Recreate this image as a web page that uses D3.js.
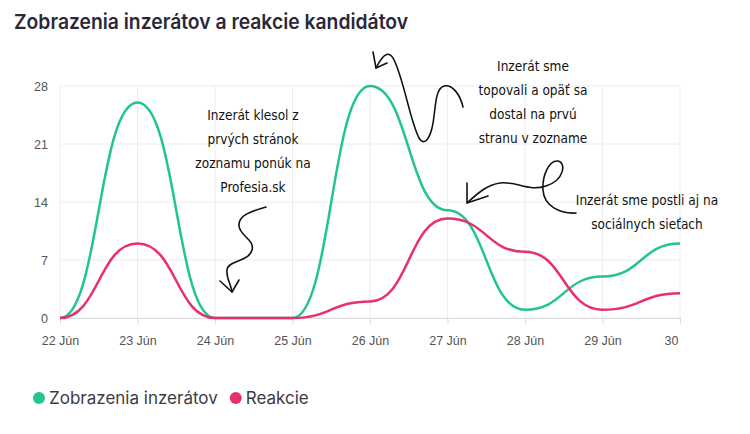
<!DOCTYPE html>
<html><head><meta charset="utf-8">
<script src="https://cdn.jsdelivr.net/npm/d3@7"></script>
<style>
body{margin:0;background:#fff;}
svg{display:block;}
</style></head>
<body>
<svg id="c" width="750" height="434"></svg>
<script>
const categories = ["22 Jún","23 Jún","24 Jún","25 Jún","26 Jún","27 Jún","28 Jún","29 Jún","30"];
const zobrazenia = [0, 26, 0, 0, 28, 13, 1, 5, 9];
const reakcie = [0, 9, 0, 0, 2, 12, 8, 1, 3];
const yTicks = [0, 7, 14, 21, 28];
const seriesNames = ["Zobrazenia inzerátov", "Reakcie"];
const colors = ["#22c58e", "#e8306a"];
const notes = [
  {x:253, y:115, lines:["Inzerát klesol z","prvých stránok","zoznamu ponúk na","Profesia.sk"]},
  {x:533, y:66, lines:["Inzerát sme","topovali a opäť sa","dostal na prvú","stranu v zozname"]},
  {x:647, y:200, lines:["Inzerát sme postli aj na","sociálnych sieťach"]}
];

const svg = d3.select("#c");
const L = 60, R = 680, T = 86, B = 318;
const x = d3.scalePoint().domain(categories).range([L, R]);
const y = d3.scaleLinear().domain([0, 28]).range([B, T]);

svg.append("text").attr("x", 14).attr("y", 29)
  .attr("font-family", "Inter, 'Noto Sans', sans-serif").attr("font-weight", 600)
  .attr("font-size", 20.5).attr("fill", "#2a2838")
  .attr("textLength", 394).attr("lengthAdjust", "spacingAndGlyphs")
  .text("Zobrazenia inzerátov a reakcie kandidátov");

// grid
const g = svg.append("g");
g.selectAll(".hg").data(yTicks).join("line")
  .attr("x1", L).attr("x2", R).attr("y1", d => y(d)).attr("y2", d => y(d))
  .attr("stroke", "#ececec").attr("stroke-width", 1);
g.selectAll(".vg").data(categories).join("line")
  .attr("x1", d => x(d)).attr("x2", d => x(d)).attr("y1", T).attr("y2", B)
  .attr("stroke", "#ececec").attr("stroke-width", 1);

// y axis
const ya = svg.append("g").attr("transform", `translate(${L-12},0)`)
  .call(d3.axisLeft(y).tickValues(yTicks).tickSize(0).tickPadding(0));
ya.select(".domain").remove();
ya.selectAll("text").attr("font-family", "'Liberation Sans', Arial, sans-serif")
  .attr("font-size", 12.5).attr("fill", "#555");

// x axis
const xa = svg.append("g").attr("transform", `translate(0,${B})`)
  .call(d3.axisBottom(x).tickSize(6).tickPadding(12));
xa.select(".domain").attr("stroke", "#dcdcdc");
xa.selectAll(".tick line").attr("stroke", "#dcdcdc");
xa.selectAll("text").attr("font-family", "'Liberation Sans', Arial, sans-serif")
  .attr("font-size", 12.5).attr("fill", "#555");
xa.selectAll(".tick text").filter(d => d === "30").attr("dx", -9);

// lines
const line = d3.line().x((d, i) => x(categories[i])).y(d => y(d)).curve(d3.curveBumpX);
svg.append("path").attr("d", line(zobrazenia)).attr("fill", "none")
  .attr("stroke", colors[0]).attr("stroke-width", 2.5);
svg.append("path").attr("d", line(reakcie)).attr("fill", "none")
  .attr("stroke", colors[1]).attr("stroke-width", 2.5);

// annotations
notes.forEach(n => {
  const t = svg.append("text").attr("text-anchor", "middle")
    .attr("font-family", "'Liberation Sans Narrow', 'DejaVu Sans Condensed', sans-serif")
    .attr("font-size", 13.5).attr("fill", "#111");
  n.lines.forEach((l, i) => t.append("tspan").attr("x", n.x).attr("y", n.y + 5 + i * 24).text(l));
});
const arrows = [
  "M266,207 C252,211 238,215 239,226 C240,236 255,240 252,250 C249,262 228,260 227,270 C226,278 231,284 232,292",
  "M220,281 L232,292 L239,280",
  "M463,107 C460,94 452,84 444,86 C434,89 436,112 432,128 C429,140 424,146 419,138 C410,120 405,85 395,62 C390,50 384,52 376,68",
  "M373,52 L376,68 L387,63",
  "M576,213 C560,214 544,206 543,190 C542,176 549,160 558,161 C566,162 565,180 546,186 C528,192 517,181 500,183 C486,185 476,195 467,203",
  "M467,183 L467,203 L488,196"
];
svg.selectAll(".arr").data(arrows).join("path").attr("d", d => d)
  .attr("fill", "none").attr("stroke", "#111").attr("stroke-width", 1.6)
  .attr("stroke-linecap", "round").attr("stroke-linejoin", "round");

// legend
const lg = svg.append("g");
let lx = 39;
seriesNames.forEach((nm, i) => {
  lg.append("circle").attr("cx", lx).attr("cy", 398).attr("r", 6).attr("fill", colors[i]);
  const t = lg.append("text").attr("x", lx + 10).attr("y", 404)
    .attr("font-family", "Inter, 'Noto Sans', sans-serif").attr("font-size", 17)
    .attr("fill", "#3b3b45").text(nm);
  lx += 10 + t.node().getComputedTextLength() + 18;
});
</script>
</body></html>
